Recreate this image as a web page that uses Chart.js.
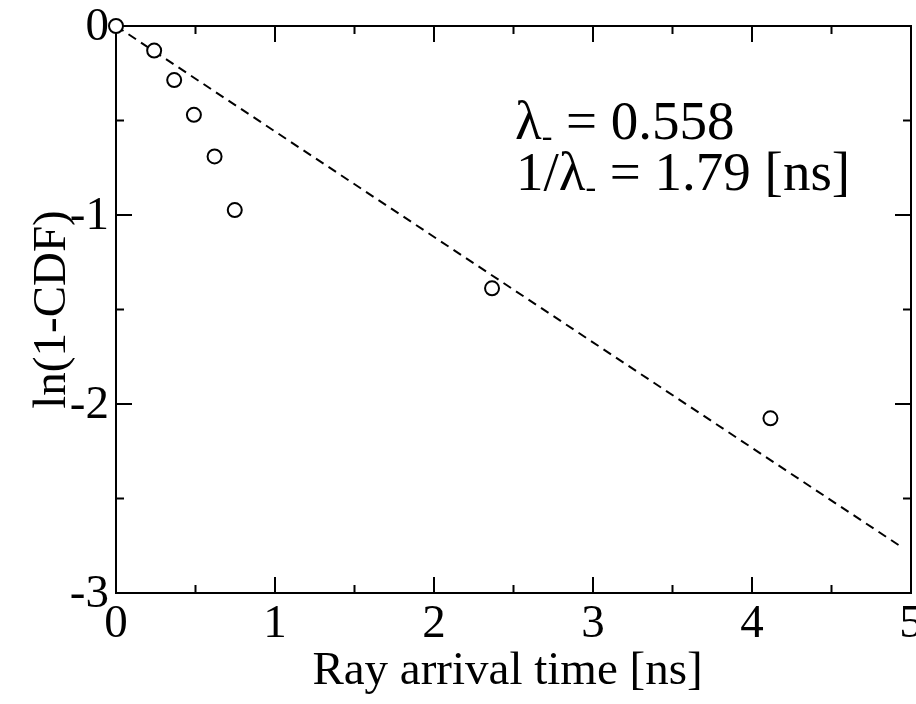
<!DOCTYPE html>
<html>
<head>
<meta charset="utf-8">
<script src="https://cdn.jsdelivr.net/npm/chart.js@4/dist/chart.umd.min.js"></script>
<style>
  html, body { margin: 0; padding: 0; background: #fff; overflow: hidden; }
  #wrap { width: 916px; height: 704px; position: relative; overflow: hidden; }
</style>
</head>
<body>
<div id="wrap"><canvas id="c" width="926" height="704"></canvas></div>
<script>
// ---- data ----
const arrivalTimeNs = [0, 0.24, 0.366, 0.49, 0.62, 0.747, 2.365, 4.116];
const lnOneMinusCdf = [0, -0.13, -0.286, -0.47, -0.69, -0.974, -1.388, -2.076];
const fitTimeNs = [0, 4.95];
const fitLnValues = [0, -2.762];
const xMajorTicks = [0, 1, 2, 3, 4, 5];
const xMinorTicks = [0.5, 1.5, 2.5, 3.5, 4.5];
const yMajorTicks = [0, -1, -2, -3];
const yMinorTicks = [-0.5, -1.5, -2.5];
const xTickLabels = ['0', '1', '2', '3', '4', '5'];
const yTickLabels = ['0', '-1', '-2', '-3'];
const xTitle = 'Ray arrival time [ns]';
const yTitle = 'ln(1-CDF)';
const lambdaValue = '0.558';
const inverseLambdaValue = '1.79';

const SERIF = '"Liberation Serif", "Times New Roman", serif';

const framePlugin = {
  id: 'frame',
  beforeDatasetsDraw(chart) {
    const ctx = chart.ctx;
    const a = chart.chartArea;
    const xs = chart.scales.x, ys = chart.scales.y;
    ctx.save();
    ctx.strokeStyle = '#000';
    ctx.lineWidth = 2;
    ctx.strokeRect(a.left, a.top, a.right - a.left, a.bottom - a.top);
    ctx.beginPath();
    const tick = (vals, len) => {
      vals.forEach(v => {
        const px = xs.getPixelForValue(v);
        ctx.moveTo(px, a.bottom); ctx.lineTo(px, a.bottom - len);
        ctx.moveTo(px, a.top); ctx.lineTo(px, a.top + len);
      });
    };
    const tickY = (vals, len) => {
      vals.forEach(v => {
        const py = ys.getPixelForValue(v);
        ctx.moveTo(a.left, py); ctx.lineTo(a.left + len, py);
        ctx.moveTo(a.right, py); ctx.lineTo(a.right - len, py);
      });
    };
    tick(xMajorTicks, 16); tick(xMinorTicks, 8);
    tickY(yMajorTicks, 16); tickY(yMinorTicks, 8);
    ctx.stroke();

    // tick labels
    ctx.fillStyle = '#000';
    ctx.font = '47px ' + SERIF;
    ctx.textAlign = 'center';
    ctx.textBaseline = 'alphabetic';
    xMajorTicks.forEach((v, i) => {
      ctx.fillText(xTickLabels[i], xs.getPixelForValue(v), a.bottom + 44);
    });
    ctx.textAlign = 'right';
    ctx.textBaseline = 'middle';
    yMajorTicks.forEach((v, i) => {
      ctx.fillText(yTickLabels[i], a.left - 7, ys.getPixelForValue(v) + 2);
    });

    // axis titles
    ctx.font = '47px ' + SERIF;
    ctx.textAlign = 'center';
    ctx.textBaseline = 'alphabetic';
    ctx.fillText(xTitle, (a.left + a.right) / 2 - 6, 684);
    ctx.save();
    ctx.translate(65, (a.top + a.bottom) / 2);
    ctx.rotate(-Math.PI / 2);
    ctx.fillText(yTitle, 0, 0);
    ctx.restore();

    // annotation
    const drawAnno = (prefix, rest, x, y) => {
      ctx.font = '55px ' + SERIF;
      ctx.textAlign = 'left';
      ctx.fillText(prefix, x, y);
      let cx = x + ctx.measureText(prefix).width;
      ctx.font = '32px ' + SERIF;
      ctx.fillText('-', cx, y + 7);
      cx += ctx.measureText('-').width;
      ctx.font = '55px ' + SERIF;
      ctx.fillText(rest, cx, y);
    };
    drawAnno('\u03BB', ' = ' + lambdaValue, 515, 139);
    drawAnno('1/\u03BB', ' = ' + inverseLambdaValue + ' [ns]', 516, 190);
    ctx.restore();
  }
};

const chart = new Chart(document.getElementById('c'), {
  type: 'scatter',
  data: {
    datasets: [
      {
        label: 'fit',
        type: 'line',
        data: fitTimeNs.map((t, i) => ({ x: t, y: fitLnValues[i] })),
        borderColor: '#000',
        borderWidth: 2,
        borderDash: [9, 6],
        pointRadius: 0,
        fill: false,
        clip: false,
        order: 2
      },
      {
        label: 'data',
        data: arrivalTimeNs.map((t, i) => ({ x: t, y: lnOneMinusCdf[i] })),
        pointStyle: 'circle',
        pointRadius: 7,
        pointBorderWidth: 2,
        pointBackgroundColor: '#fff',
        pointBorderColor: '#000',
        clip: false,
        order: 1
      }
    ]
  },
  options: {
    responsive: false,
    animation: false,
    events: [],
    layout: { padding: { top: 26, right: 15, left: 0, bottom: 0 } },
    plugins: { legend: { display: false }, tooltip: { enabled: false } },
    scales: {
      x: {
        type: 'linear', min: 0, max: 5,
        grid: { display: false },
        border: { display: false },
        ticks: { display: false },
        afterFit(s) { s.height = 111; }
      },
      y: {
        type: 'linear', min: -3, max: 0,
        grid: { display: false },
        border: { display: false },
        ticks: { display: false },
        afterFit(s) { s.width = 116; }
      }
    }
  },
  plugins: [framePlugin]
});
</script>
</body>
</html>
